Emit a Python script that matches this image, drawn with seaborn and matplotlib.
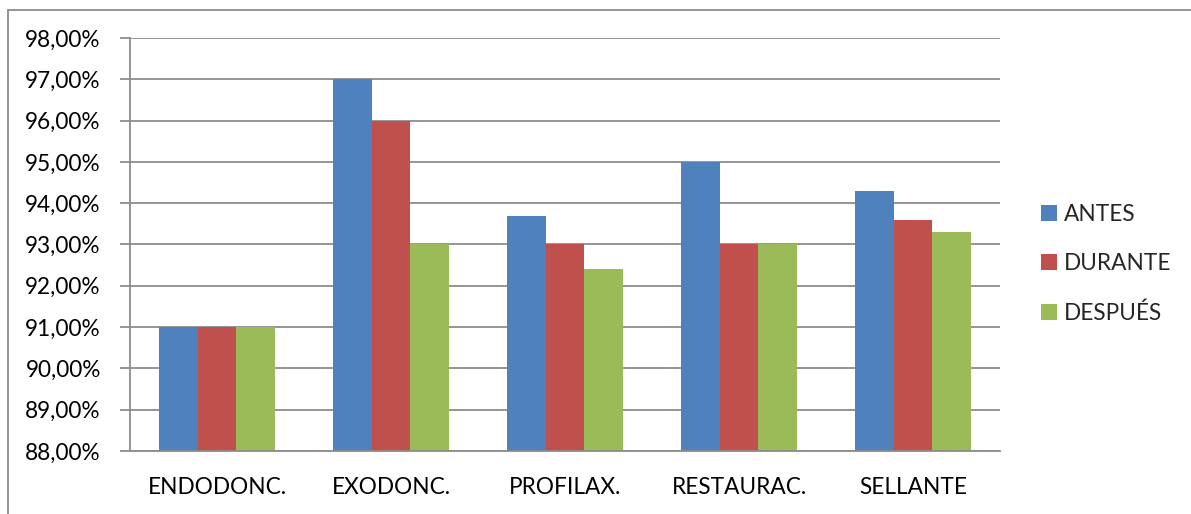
import matplotlib
matplotlib.use("Agg")
import matplotlib.pyplot as plt
from matplotlib.ticker import FuncFormatter, FixedLocator
from matplotlib.lines import Line2D
import seaborn as sns
import pandas as pd

categories = ["ENDODONC.", "EXODONC.", "PROFILAX.", "RESTAURAC.", "SELLANTE"]
antes = [91.0, 97.0, 93.7, 95.0, 94.3]
durante = [91.0, 96.0, 93.0, 93.0, 93.6]
despues = [91.0, 93.0, 92.4, 93.0, 93.3]
series_names = ["ANTES", "DURANTE", "DESPUÉS"]
colors = ["#4F81BD", "#C0504D", "#9BBB59"]

rows = []
for name, vals in zip(series_names, [antes, durante, despues]):
    for cat, v in zip(categories, vals):
        rows.append({"cat": cat, "serie": name, "valor": v})
df = pd.DataFrame(rows)

sns.set_style("white")
plt.rcParams["font.family"] = ["Lato", "DejaVu Sans"]
FS = 16.3

fig = plt.figure(figsize=(11.91, 5.14), dpi=100)
ax = fig.add_axes([130 / 1191, 1 - 451 / 514, 870 / 1191, 413 / 514])

sns.barplot(data=df, x="cat", y="valor", hue="serie", order=categories,
            hue_order=series_names, palette=colors, width=0.67,
            saturation=1, ax=ax, legend=True, linewidth=0)

ax.set_ylim(88, 98)
ax.set_xlim(-0.5, 4.5)
ax.set_yticks(range(88, 99))
ax.yaxis.set_major_formatter(FuncFormatter(lambda v, p: f"{v:.2f}%".replace(".", ",")))
ax.set_xlabel("")
ax.set_ylabel("")
ax.set_axisbelow(True)
ax.grid(axis="y", color="#8C8C8C", linewidth=1.3)
ax.grid(axis="x", visible=False)

for s in ["top", "right"]:
    ax.spines[s].set_visible(False)
for s in ["left", "bottom"]:
    ax.spines[s].set_color("#8C8C8C")
    ax.spines[s].set_linewidth(1.3)

ax.xaxis.set_minor_locator(FixedLocator([-0.5, 0.5, 1.5, 2.5, 3.5, 4.5]))
ax.tick_params(axis="x", which="major", length=0, pad=19, labelsize=FS, colors="black")
ax.tick_params(axis="x", which="minor", length=7, width=1.3, color="#8C8C8C", direction="out")
ax.tick_params(axis="y", which="major", length=7, width=1.3, color="#8C8C8C",
               direction="out", pad=14, labelsize=FS, labelcolor="black", left=True)

handles, labels = ax.get_legend_handles_labels()
ax.legend(handles, labels, loc="center left", bbox_to_anchor=(1021 / 1191, 1 - 264 / 514),
          bbox_transform=fig.transFigure, frameon=False, fontsize=FS,
          handlelength=0.7, handleheight=0.7, handletextpad=0.3, labelspacing=1.25)

# outer chart frame
fig.add_artist(Line2D([8 / 1191, 8 / 1191], [0, 1 - 10 / 514], transform=fig.transFigure,
                      color="#8C8C8C", linewidth=1.3))
fig.add_artist(Line2D([8 / 1191, 1], [1 - 10 / 514, 1 - 10 / 514], transform=fig.transFigure,
                      color="#8C8C8C", linewidth=1.3))

fig.savefig("out.png", dpi=100)
